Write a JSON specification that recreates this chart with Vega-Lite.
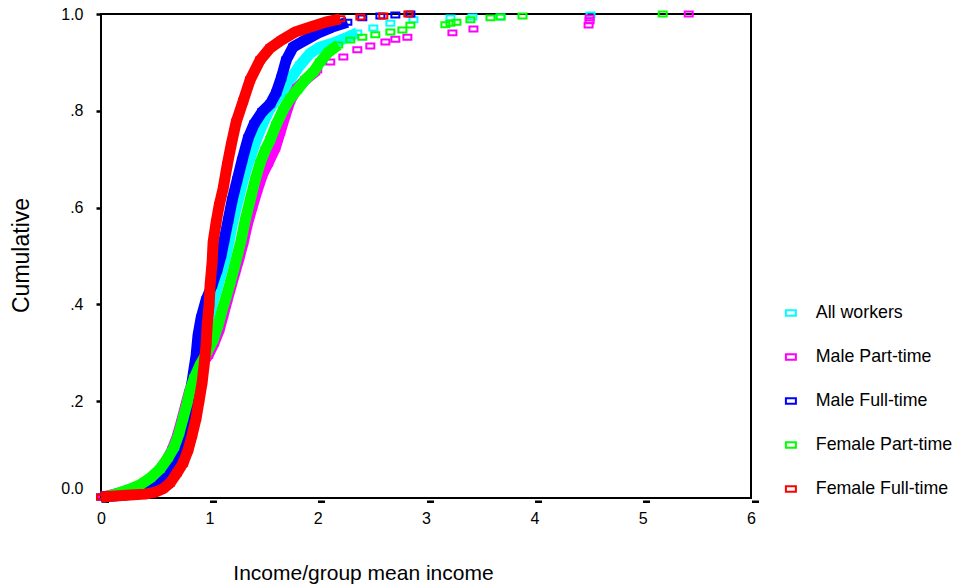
{
  "$schema": "https://vega.github.io/schema/vega-lite/v6.json",
  "autosize": "none",
  "width": 650,
  "height": 484,
  "padding": {"left": 101, "top": 14, "right": 203, "bottom": 88},
  "background": "white",
  "config": {
    "view": {"stroke": "black", "strokeWidth": 2},
    "font": "Liberation Sans"
  },
  "data": {"values": [
    {"s":"All workers","x":0,"y":0.002},{"s":"All workers","x":0.129,"y":0.004},{"s":"All workers","x":0.268,"y":0.008},{"s":"All workers","x":0.407,"y":0.012},{"s":"All workers","x":0.499,"y":0.019},{"s":"All workers","x":0.573,"y":0.029},{"s":"All workers","x":0.638,"y":0.045},{"s":"All workers","x":0.693,"y":0.070},{"s":"All workers","x":0.739,"y":0.099},{"s":"All workers","x":0.786,"y":0.132},{"s":"All workers","x":0.823,"y":0.169},{"s":"All workers","x":0.860,"y":0.209},{"s":"All workers","x":0.896,"y":0.248},{"s":"All workers","x":0.924,"y":0.285},{"s":"All workers","x":0.952,"y":0.322},{"s":"All workers","x":0.989,"y":0.364},{"s":"All workers","x":1.026,"y":0.399},{"s":"All workers","x":1.072,"y":0.434},{"s":"All workers","x":1.118,"y":0.471},{"s":"All workers","x":1.155,"y":0.502},{"s":"All workers","x":1.183,"y":0.533},{"s":"All workers","x":1.220,"y":0.574},{"s":"All workers","x":1.266,"y":0.616},{"s":"All workers","x":1.312,"y":0.657},{"s":"All workers","x":1.368,"y":0.698},{"s":"All workers","x":1.433,"y":0.740},{"s":"All workers","x":1.497,"y":0.775},{"s":"All workers","x":1.562,"y":0.806},{"s":"All workers","x":1.627,"y":0.826},{"s":"All workers","x":1.691,"y":0.847},{"s":"All workers","x":1.756,"y":0.868},{"s":"All workers","x":1.839,"y":0.895},{"s":"All workers","x":1.932,"y":0.919},{"s":"All workers","x":2.024,"y":0.932},{"s":"All workers","x":2.144,"y":0.940},{"s":"All workers","x":2.255,"y":0.950},{"s":"All workers","x":2.366,"y":0.961},{"s":"All workers","x":2.514,"y":0.971},{"s":"All workers","x":2.671,"y":0.981},{"s":"All workers","x":2.884,"y":0.988},{"s":"All workers","x":3.226,"y":0.992},{"s":"All workers","x":3.429,"y":0.994},{"s":"All workers","x":3.688,"y":0.994},{"s":"All workers","x":4.519,"y":0.998},

    {"s":"Male Part-time","x":0.018,"y":0.002},{"s":"Male Part-time","x":0.129,"y":0.008},{"s":"Male Part-time","x":0.222,"y":0.014},{"s":"Male Part-time","x":0.333,"y":0.023},{"s":"Male Part-time","x":0.434,"y":0.035},{"s":"Male Part-time","x":0.527,"y":0.054},{"s":"Male Part-time","x":0.601,"y":0.076},{"s":"Male Part-time","x":0.656,"y":0.099},{"s":"Male Part-time","x":0.702,"y":0.126},{"s":"Male Part-time","x":0.739,"y":0.155},{"s":"Male Part-time","x":0.776,"y":0.186},{"s":"Male Part-time","x":0.813,"y":0.217},{"s":"Male Part-time","x":0.850,"y":0.244},{"s":"Male Part-time","x":0.915,"y":0.271},{"s":"Male Part-time","x":0.989,"y":0.295},{"s":"Male Part-time","x":1.044,"y":0.320},{"s":"Male Part-time","x":1.091,"y":0.347},{"s":"Male Part-time","x":1.128,"y":0.378},{"s":"Male Part-time","x":1.165,"y":0.409},{"s":"Male Part-time","x":1.201,"y":0.438},{"s":"Male Part-time","x":1.238,"y":0.467},{"s":"Male Part-time","x":1.275,"y":0.496},{"s":"Male Part-time","x":1.312,"y":0.527},{"s":"Male Part-time","x":1.349,"y":0.564},{"s":"Male Part-time","x":1.396,"y":0.601},{"s":"Male Part-time","x":1.442,"y":0.636},{"s":"Male Part-time","x":1.488,"y":0.667},{"s":"Male Part-time","x":1.543,"y":0.692},{"s":"Male Part-time","x":1.608,"y":0.723},{"s":"Male Part-time","x":1.654,"y":0.756},{"s":"Male Part-time","x":1.701,"y":0.791},{"s":"Male Part-time","x":1.747,"y":0.822},{"s":"Male Part-time","x":1.811,"y":0.847},{"s":"Male Part-time","x":1.885,"y":0.864},{"s":"Male Part-time","x":1.996,"y":0.884},{"s":"Male Part-time","x":2.116,"y":0.901},{"s":"Male Part-time","x":2.237,"y":0.911},{"s":"Male Part-time","x":2.366,"y":0.926},{"s":"Male Part-time","x":2.486,"y":0.934},{"s":"Male Part-time","x":2.625,"y":0.942},{"s":"Male Part-time","x":2.717,"y":0.948},{"s":"Male Part-time","x":2.828,"y":0.952},{"s":"Male Part-time","x":3.244,"y":0.961},{"s":"Male Part-time","x":3.438,"y":0.969},{"s":"Male Part-time","x":4.501,"y":0.977},{"s":"Male Part-time","x":4.510,"y":0.986},{"s":"Male Part-time","x":4.510,"y":0.992},{"s":"Male Part-time","x":5.425,"y":1.0},

    {"s":"Male Full-time","x":0,"y":0.002},{"s":"Male Full-time","x":0.102,"y":0.004},{"s":"Male Full-time","x":0.222,"y":0.006},{"s":"Male Full-time","x":0.360,"y":0.010},{"s":"Male Full-time","x":0.453,"y":0.017},{"s":"Male Full-time","x":0.527,"y":0.025},{"s":"Male Full-time","x":0.582,"y":0.037},{"s":"Male Full-time","x":0.628,"y":0.054},{"s":"Male Full-time","x":0.675,"y":0.079},{"s":"Male Full-time","x":0.721,"y":0.110},{"s":"Male Full-time","x":0.758,"y":0.140},{"s":"Male Full-time","x":0.795,"y":0.178},{"s":"Male Full-time","x":0.823,"y":0.213},{"s":"Male Full-time","x":0.850,"y":0.254},{"s":"Male Full-time","x":0.878,"y":0.295},{"s":"Male Full-time","x":0.896,"y":0.337},{"s":"Male Full-time","x":0.924,"y":0.372},{"s":"Male Full-time","x":0.970,"y":0.409},{"s":"Male Full-time","x":1.026,"y":0.440},{"s":"Male Full-time","x":1.072,"y":0.471},{"s":"Male Full-time","x":1.109,"y":0.502},{"s":"Male Full-time","x":1.137,"y":0.533},{"s":"Male Full-time","x":1.174,"y":0.574},{"s":"Male Full-time","x":1.211,"y":0.616},{"s":"Male Full-time","x":1.257,"y":0.657},{"s":"Male Full-time","x":1.303,"y":0.698},{"s":"Male Full-time","x":1.359,"y":0.744},{"s":"Male Full-time","x":1.414,"y":0.773},{"s":"Male Full-time","x":1.488,"y":0.798},{"s":"Male Full-time","x":1.562,"y":0.814},{"s":"Male Full-time","x":1.617,"y":0.837},{"s":"Male Full-time","x":1.664,"y":0.868},{"s":"Male Full-time","x":1.710,"y":0.905},{"s":"Male Full-time","x":1.774,"y":0.932},{"s":"Male Full-time","x":1.885,"y":0.946},{"s":"Male Full-time","x":2.006,"y":0.961},{"s":"Male Full-time","x":2.135,"y":0.973},{"s":"Male Full-time","x":2.274,"y":0.983},{"s":"Male Full-time","x":2.412,"y":0.992},{"s":"Male Full-time","x":2.579,"y":0.996},{"s":"Male Full-time","x":2.717,"y":0.998},{"s":"Male Full-time","x":2.856,"y":1.0},

    {"s":"Female Part-time","x":0.065,"y":0.004},{"s":"Female Part-time","x":0.157,"y":0.010},{"s":"Female Part-time","x":0.250,"y":0.017},{"s":"Female Part-time","x":0.360,"y":0.027},{"s":"Female Part-time","x":0.453,"y":0.041},{"s":"Female Part-time","x":0.545,"y":0.060},{"s":"Female Part-time","x":0.619,"y":0.083},{"s":"Female Part-time","x":0.675,"y":0.105},{"s":"Female Part-time","x":0.721,"y":0.134},{"s":"Female Part-time","x":0.758,"y":0.165},{"s":"Female Part-time","x":0.795,"y":0.196},{"s":"Female Part-time","x":0.823,"y":0.223},{"s":"Female Part-time","x":0.860,"y":0.248},{"s":"Female Part-time","x":0.915,"y":0.275},{"s":"Female Part-time","x":0.980,"y":0.302},{"s":"Female Part-time","x":1.035,"y":0.326},{"s":"Female Part-time","x":1.081,"y":0.357},{"s":"Female Part-time","x":1.118,"y":0.388},{"s":"Female Part-time","x":1.155,"y":0.415},{"s":"Female Part-time","x":1.192,"y":0.444},{"s":"Female Part-time","x":1.229,"y":0.475},{"s":"Female Part-time","x":1.266,"y":0.508},{"s":"Female Part-time","x":1.294,"y":0.533},{"s":"Female Part-time","x":1.331,"y":0.574},{"s":"Female Part-time","x":1.377,"y":0.616},{"s":"Female Part-time","x":1.423,"y":0.657},{"s":"Female Part-time","x":1.469,"y":0.692},{"s":"Female Part-time","x":1.516,"y":0.719},{"s":"Female Part-time","x":1.562,"y":0.740},{"s":"Female Part-time","x":1.617,"y":0.771},{"s":"Female Part-time","x":1.682,"y":0.802},{"s":"Female Part-time","x":1.747,"y":0.826},{"s":"Female Part-time","x":1.811,"y":0.843},{"s":"Female Part-time","x":1.885,"y":0.864},{"s":"Female Part-time","x":1.959,"y":0.880},{"s":"Female Part-time","x":2.024,"y":0.901},{"s":"Female Part-time","x":2.098,"y":0.921},{"s":"Female Part-time","x":2.190,"y":0.936},{"s":"Female Part-time","x":2.301,"y":0.946},{"s":"Female Part-time","x":2.412,"y":0.952},{"s":"Female Part-time","x":2.532,"y":0.957},{"s":"Female Part-time","x":2.671,"y":0.963},{"s":"Female Part-time","x":2.782,"y":0.967},{"s":"Female Part-time","x":2.856,"y":0.977},{"s":"Female Part-time","x":3.179,"y":0.978},{"s":"Female Part-time","x":3.226,"y":0.981},{"s":"Female Part-time","x":3.281,"y":0.983},{"s":"Female Part-time","x":3.410,"y":0.988},{"s":"Female Part-time","x":3.595,"y":0.992},{"s":"Female Part-time","x":3.688,"y":0.994},{"s":"Female Part-time","x":3.891,"y":0.996},{"s":"Female Part-time","x":5.185,"y":1.0},

    {"s":"Female Full-time","x":0,"y":0.002},{"s":"Female Full-time","x":0.129,"y":0.004},{"s":"Female Full-time","x":0.268,"y":0.006},{"s":"Female Full-time","x":0.407,"y":0.008},{"s":"Female Full-time","x":0.499,"y":0.012},{"s":"Female Full-time","x":0.573,"y":0.019},{"s":"Female Full-time","x":0.638,"y":0.031},{"s":"Female Full-time","x":0.702,"y":0.052},{"s":"Female Full-time","x":0.758,"y":0.072},{"s":"Female Full-time","x":0.804,"y":0.099},{"s":"Female Full-time","x":0.841,"y":0.130},{"s":"Female Full-time","x":0.878,"y":0.165},{"s":"Female Full-time","x":0.906,"y":0.202},{"s":"Female Full-time","x":0.933,"y":0.238},{"s":"Female Full-time","x":0.952,"y":0.275},{"s":"Female Full-time","x":0.970,"y":0.316},{"s":"Female Full-time","x":0.980,"y":0.357},{"s":"Female Full-time","x":0.998,"y":0.399},{"s":"Female Full-time","x":1.007,"y":0.440},{"s":"Female Full-time","x":1.026,"y":0.488},{"s":"Female Full-time","x":1.035,"y":0.529},{"s":"Female Full-time","x":1.063,"y":0.570},{"s":"Female Full-time","x":1.091,"y":0.605},{"s":"Female Full-time","x":1.128,"y":0.640},{"s":"Female Full-time","x":1.165,"y":0.688},{"s":"Female Full-time","x":1.201,"y":0.729},{"s":"Female Full-time","x":1.248,"y":0.777},{"s":"Female Full-time","x":1.312,"y":0.820},{"s":"Female Full-time","x":1.377,"y":0.864},{"s":"Female Full-time","x":1.469,"y":0.905},{"s":"Female Full-time","x":1.562,"y":0.930},{"s":"Female Full-time","x":1.664,"y":0.946},{"s":"Female Full-time","x":1.793,"y":0.963},{"s":"Female Full-time","x":1.932,"y":0.973},{"s":"Female Full-time","x":2.070,"y":0.983},{"s":"Female Full-time","x":2.209,"y":0.990},{"s":"Female Full-time","x":2.394,"y":0.994},{"s":"Female Full-time","x":2.606,"y":0.996},{"s":"Female Full-time","x":2.837,"y":1.0}
  ]},
  "encoding": {
    "x": {"field": "x", "type": "quantitative",
      "scale": {"domain": [0, 6], "nice": false, "zero": false},
      "axis": {"title": "Income/group mean income", "values": [0,1,2,3,4,5,6], "format": "d",
        "domain": false, "grid": false, "offset": 2, "labelFlush": false,
        "tickSize": 2.5, "tickWidth": 7, "tickOffset": 3.5, "tickColor": "black",
        "labelOffset": -3.5, "labelPadding": 8, "labelFont": "Liberation Sans", "labelFontSize": 16, "labelColor": "black",
        "titleFont": "Liberation Sans", "titleFontSize": 21, "titleFontWeight": "normal", "titleColor": "black",
        "titleX": 262, "titleY": 79, "titleAlign": "center", "titleBaseline": "alphabetic"}},
    "y": {"field": "y", "type": "quantitative",
      "scale": {"domain": [0, 1], "nice": false},
      "axis": {"title": "Cumulative", "values": [0,0.2,0.4,0.6,0.8,1],
        "labelExpr": "datum.value == 0 ? '0.0' : datum.value == 1 ? '1.0' : '.' + format(datum.value*10, 'd')",
        "domain": false, "grid": false, "labelFlush": false,
        "tickSize": 5, "tickWidth": 2.5, "tickColor": "black",
        "labelPadding": 13, "labelFont": "Liberation Sans", "labelFontSize": 16, "labelColor": "black",
        "labelOffset": {"condition": {"test": "datum.value == 0", "value": -10}, "value": 0},
        "titleFont": "Liberation Sans", "titleFontSize": 23, "titleFontWeight": "normal", "titleColor": "black",
        "titleAngle": -90, "titleX": -73, "titleY": 241, "titleAlign": "center", "titleBaseline": "alphabetic"}},
    "color": {"field": "s", "type": "nominal",
      "scale": {"domain": ["All workers", "Male Part-time", "Male Full-time", "Female Part-time", "Female Full-time"],
                "range": ["#00ffff", "#ff00ff", "#0000ff", "#00ff00", "#ff0000"]},
      "legend": {"orient": "none", "legendX": 681, "legendY": 290, "title": null,
        "labelFont": "Liberation Sans", "labelFontSize": 17.8, "labelColor": "black", "labelOffset": 16,
        "rowPadding": 25, "symbolType": "M-1,-0.55H1V0.55H-1Z", "symbolSize": 100, "symbolStrokeWidth": 2,
        "symbolFillColor": "transparent"}}
  },
  "layer": [
    {"transform": [{"filter": "datum.s == 'All workers' && datum.x <= 2.4"}], "mark": {"type": "line", "strokeWidth": 11, "strokeJoin": "round"}},
    {"transform": [{"filter": "datum.s == 'All workers'"}], "mark": {"type": "point", "shape": "M-1,-0.62H1V0.62H-1Z", "size": 64, "strokeWidth": 2, "filled": false, "opacity": 1}},
    {"transform": [{"filter": "datum.s == 'Male Part-time' && datum.x <= 2.1"}], "mark": {"type": "line", "strokeWidth": 11, "strokeJoin": "round"}},
    {"transform": [{"filter": "datum.s == 'Male Part-time'"}], "mark": {"type": "point", "shape": "M-1,-0.62H1V0.62H-1Z", "size": 64, "strokeWidth": 2, "filled": false, "opacity": 1}},
    {"transform": [{"filter": "datum.s == 'Male Full-time' && datum.x <= 2.3"}], "mark": {"type": "line", "strokeWidth": 11, "strokeJoin": "round"}},
    {"transform": [{"filter": "datum.s == 'Male Full-time'"}], "mark": {"type": "point", "shape": "M-1,-0.62H1V0.62H-1Z", "size": 64, "strokeWidth": 2, "filled": false, "opacity": 1}},
    {"transform": [{"filter": "datum.s == 'Female Part-time' && datum.x <= 2.25"}], "mark": {"type": "line", "strokeWidth": 11, "strokeJoin": "round"}},
    {"transform": [{"filter": "datum.s == 'Female Part-time'"}], "mark": {"type": "point", "shape": "M-1,-0.62H1V0.62H-1Z", "size": 64, "strokeWidth": 2, "filled": false, "opacity": 1}},
    {"transform": [{"filter": "datum.s == 'Female Full-time' && datum.x <= 2.25"}], "mark": {"type": "line", "strokeWidth": 11, "strokeJoin": "round"}},
    {"transform": [{"filter": "datum.s == 'Female Full-time'"}], "mark": {"type": "point", "shape": "M-1,-0.62H1V0.62H-1Z", "size": 64, "strokeWidth": 2, "filled": false, "opacity": 1}}
  ]
}
